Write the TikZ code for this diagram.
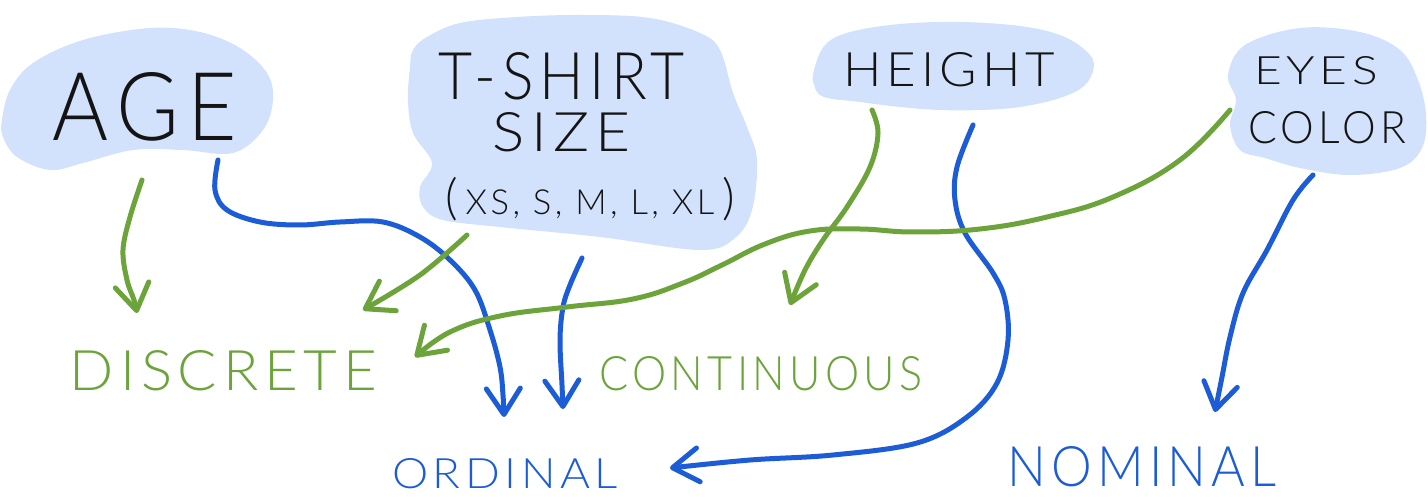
\documentclass[tikz,border=0pt]{standalone}
\usepackage{fontspec}
\usepackage{graphicx}
\usetikzlibrary{arrows.meta}
\IfFontExistsTF{Lato Light}{\newfontfamily\hand{Lato Light}[LetterSpace=10]}{\newfontfamily\hand{Lato}[LetterSpace=10]}
\definecolor{blobc}{RGB}{210,225,252}
\definecolor{gr}{RGB}{108,163,58}
\definecolor{bl}{RGB}{28,92,214}
\definecolor{ink}{RGB}{20,20,20}
\newcommand{\fitt}[3]{\resizebox{#1}{#2}{\hand #3}}
\begin{document}
\begin{tikzpicture}[x=0.5pt,y=-0.5pt,
  blob/.style={fill=blobc},
  lab/.style={inner sep=0pt,anchor=center},
  conn/.style={line width=2.5pt,line cap=round,line join=round,
    -{Straight Barb[length=13pt,width=17pt,round]}},
  gconn/.style={conn,draw=gr},
  bconn/.style={conn,draw=bl}]
\useasboundingbox (0,0) rectangle (1428,497);
% blobs
\fill[blob] plot[smooth cycle,tension=0.6] coordinates {(2,120) (10,90) (33,63) (83,40) (150,28) (200,32) (240,48) (267,73) (273,100) (263,130) (233,153) (183,150) (133,150) (83,163) (50,170) (17,157) (3,137)};
\fill[blob] plot[smooth cycle,tension=0.6] coordinates {(410,67) (408,100) (413,133) (432,163) (420,187) (423,207) (443,220) (500,227) (600,237) (700,250) (735,238) (752,210) (757,160) (747,127) (733,93) (720,50) (700,33) (650,18) (583,15) (517,17) (460,23) (427,37) (413,50)};
\fill[blob] plot[smooth cycle,tension=0.6] coordinates {(814,70) (825,45) (850,32) (900,24) (960,22) (1020,26) (1060,35) (1085,50) (1094,65) (1085,85) (1060,98) (1020,107) (980,110) (940,110) (900,107) (860,102) (824,97) (814,85)};
\fill[blob] plot[smooth cycle,tension=0.6] coordinates {(1228,75) (1245,45) (1300,28) (1360,32) (1400,50) (1418,80) (1426,115) (1422,148) (1400,168) (1350,175) (1300,168) (1265,158) (1240,150) (1230,125) (1236,100)};
% blob texts
\node[lab,text=ink] (age) at (145,107) {\fitt{92pt}{34pt}{AGE}};
\node[lab,text=ink] (tshirt) at (561.5,76.5) {\fitt{123.5pt}{23.5pt}{T-SHIRT}};
\node[lab,text=ink] (size) at (561.5,132.5) {\fitt{68.5pt}{19.5pt}{SIZE}};
\node[lab,text=ink] (sizes) at (590,199) {\resizebox{145pt}{!}{\hand\fontsize{24pt}{24pt}\selectfont(\,{\fontsize{17pt}{17pt}\selectfont XS, S, M, L, XL}\,)}};
\node[lab,text=ink] (height) at (949,70) {\fitt{106pt}{17pt}{HEIGHT}};
\node[lab,text=ink] (eyes) at (1316,71) {\fitt{62pt}{14pt}{EYES}};
\node[lab,text=ink] (color) at (1327,128) {\fitt{79pt}{16pt}{COLOR}};
% category labels
\node[lab,text=gr] (disc) at (223.5,371) {\fitt{153.5pt}{20pt}{DISCRETE}};
\node[lab,text=gr] (cont) at (761,374) {\fitt{161.5pt}{17pt}{CONTINUOUS}};
\node[lab,text=bl] (ord) at (505,474) {\fitt{113pt}{15pt}{ORDINAL}};
\node[lab,text=bl] (nom) at (1142,467) {\fitt{134.5pt}{20pt}{NOMINAL}};
% connector ends
\coordinate (ageG) at (142,180);
\coordinate (ageB) at (218,160);
\coordinate (tsG) at (467,235);
\coordinate (tsB) at (582,258);
\coordinate (htG) at (872,110);
\coordinate (htB) at (973,125);
\coordinate (ecG) at (1230,110);
\coordinate (ecB) at (1313,175);
\coordinate (discA) at (137,313);
\coordinate (discT) at (363,310);
\coordinate (discE) at (415,357);
\coordinate (ordA) at (504,417);
\coordinate (ordT) at (563,409);
\coordinate (ordH) at (670,468);
\coordinate (contH) at (790,305);
\coordinate (nomE) at (1215,412);
% connectors
\draw[gconn] plot[smooth,tension=0.6] coordinates {(ageG) (130,217) (123,250) (127,280) (134,300) (discA)};
\draw[bconn] plot[smooth,tension=0.6] coordinates {(ageB) (215,190) (227,210) (260,222) (300,225) (340,222) (383,222) (420,237) (450,260) (475,290) (490,330) (500,367) (503,395) (ordA)};
\draw[gconn] plot[smooth,tension=0.6] coordinates {(tsG) (420,275) (discT)};
\draw[bconn] plot[smooth,tension=0.6] coordinates {(tsB) (570,285) (563,307) (560,340) (562,385) (ordT)};
\draw[gconn] plot[smooth,tension=0.6] coordinates {(htG) (878,133) (870,167) (847,207) (823,240) (805,270) (contH)};
\draw[bconn] plot[smooth,tension=0.6] coordinates {(htB) (957,167) (955,200) (965,233) (993,273) (1005,300) (1008,340) (997,383) (967,417) (917,443) (833,455) (750,460) (ordH)};
\draw[gconn] plot[smooth,tension=0.7] coordinates {(ecG) (1180,160) (1113,197) (1047,217) (980,229) (913,232) (860,229) (810,231) (765,244) (722,265) (683,283) (633,299) (567,307) (500,316) (450,332) (discE)};
\draw[bconn] plot[smooth,tension=0.6] coordinates {(ecB) (1293,200) (1267,250) (1243,293) (1230,337) (1222,377) (nomE)};
\end{tikzpicture}
\end{document}
